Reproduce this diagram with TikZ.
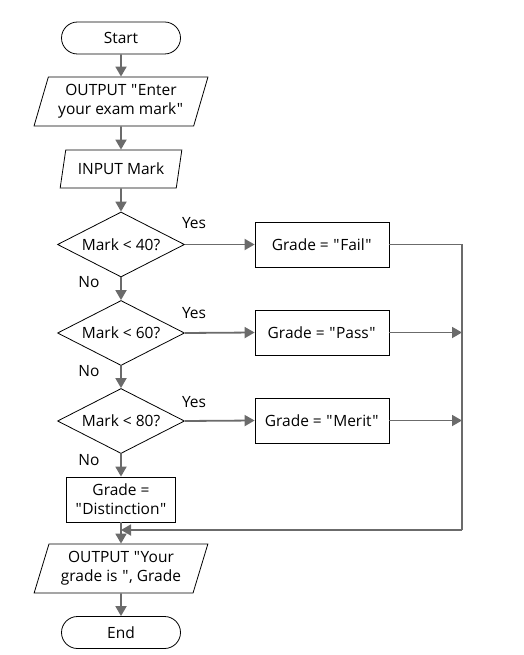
\documentclass[tikz,border=0pt]{standalone}
\usepackage{fontspec}
\setmainfont{Open Sans}[Ligatures=TeXOff]
\usetikzlibrary{shapes.geometric,arrows.meta}
\newcommand{\q}{\kern0.6pt\char34\kern0.6pt}
\begin{document}
\begin{tikzpicture}[x=1pt,y=-1pt,
  every node/.style={font=\fontsize{15.5}{19}\selectfont, text=black},
  term/.style={draw=black, line width=0.8pt, rounded corners=16pt, minimum width=119pt, minimum height=32pt, inner sep=0pt},
  io/.style={draw=black, line width=0.8pt, trapezium, trapezium left angle=70, trapezium right angle=110, trapezium stretches=true, align=center, inner sep=0pt},
  dec/.style={draw=black, line width=0.8pt, diamond, aspect=2, minimum width=127pt, minimum height=65pt, inner sep=0pt},
  proc/.style={draw=black, line width=0.8pt, rectangle, minimum width=134pt, minimum height=45pt, align=center, inner sep=0pt},
  arr/.style={draw=black!58, line width=1.8pt, -{Triangle[length=10pt,width=11pt]}},
  ln/.style={draw=black!58, line width=1.8pt},
  lbl/.style={inner sep=0pt}
]
\useasboundingbox (0,0) rectangle (524,655);
\node[term] (start) at (121,38) {Start};
\node[io, minimum width=174pt, minimum height=49pt] (out1) at (121,101.5) {OUTPUT \q Enter\\your exam mark\q};
\node[io, minimum width=122pt, minimum height=38pt] (inp) at (121,169) {INPUT Mark};
\node[dec] (d1) at (121,244.5) {Mark < 40?};
\node[dec] (d2) at (121,333) {Mark < 60?};
\node[dec] (d3) at (121,421) {Mark < 80?};
\node[proc] (fail) at (322,244.5) {Grade = \q Fail\q};
\node[proc] (pass) at (322,332.5) {Grade = \q Pass\q};
\node[proc] (merit) at (322,420.5) {Grade = \q Merit\q};
\node[proc, minimum width=109pt] (dist) at (121,499.5) {Grade =\\\q Distinction\q};
\node[io, minimum width=174pt, minimum height=49pt] (out2) at (121,568.5) {OUTPUT \q Your\\grade is \q, Grade};
\node[term] (end) at (121,632.5) {End};
\node[lbl] (y1) at (194,223) {Yes};
\node[lbl] (y2) at (194,313) {Yes};
\node[lbl] (y3) at (194,402) {Yes};
\node[lbl] (n1) at (89,282) {No};
\node[lbl] (n2) at (89,371) {No};
\node[lbl] (n3) at (89,460) {No};
\coordinate (rtop) at (462,244.5);
\coordinate (rbot) at (462,530);
\coordinate (merge) at (121,530);
\draw[arr] (start) -- (out1);
\draw[arr] (out1) -- (inp);
\draw[arr] (inp) -- (d1);
\draw[arr] (d1) -- (d2);
\draw[arr] (d2) -- (d3);
\draw[arr] (d3) -- (dist);
\draw[arr] (dist) -- (out2);
\draw[arr] (out2) -- (end);
\draw[arr] (d1.east) -- (fail.west);
\draw[arr] (d2.east) -- (pass.west);
\draw[arr] (d3.east) -- (merit.west);
\draw[ln] (fail.east) -- (rtop) -- (rbot);
\draw[arr] (rbot) -- (merge);
\draw[arr] (pass.east) -- (pass.east -| rtop);
\draw[arr] (merit.east) -- (merit.east -| rtop);
\end{tikzpicture}
\end{document}
